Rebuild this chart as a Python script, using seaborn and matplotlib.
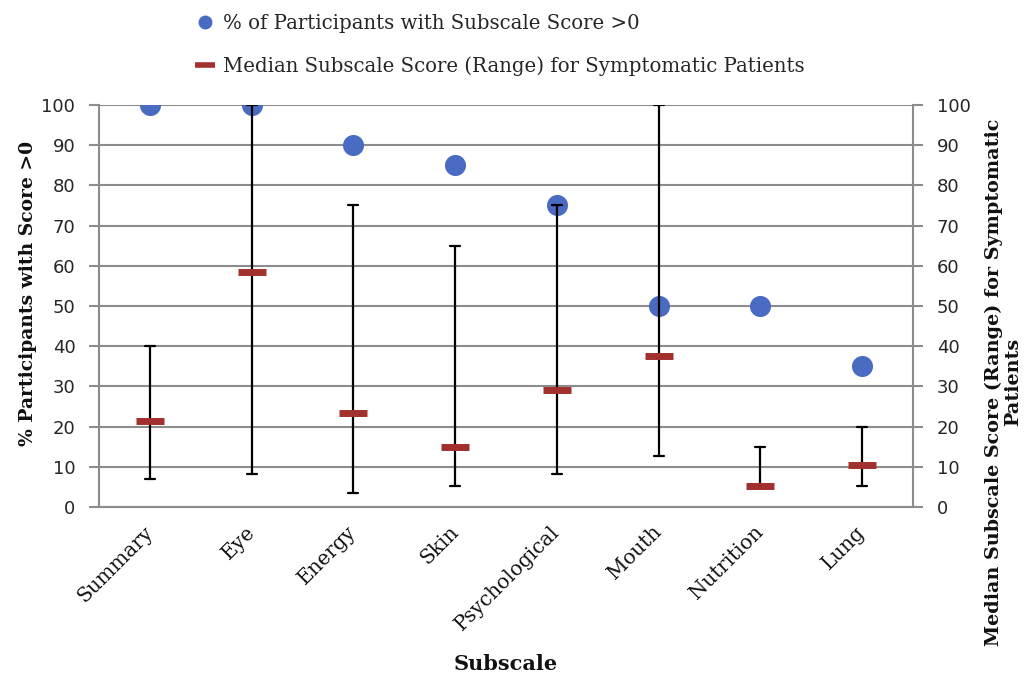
import numpy as np
import pandas as pd
import seaborn as sns
import matplotlib.pyplot as plt
from matplotlib.lines import Line2D
from matplotlib.ticker import FixedLocator

# Datos
subscales = ['Summary', 'Eye', 'Energy', 'Skin', 'Psychological', 'Mouth', 'Nutrition', 'Lung']
pct_score = [100, 100, 90, 85, 75, 50, 50, 35]
median_score = [21.3, 58.4, 23.4, 15.0, 29.2, 37.6, 5.3, 10.4]
range_low = [6.9, 8.1, 3.5, 5.2, 8.1, 12.7, 5.3, 5.2]
range_high = [40, 100, 75, 65, 75, 100, 15, 20]

blue = '#4A6BC2'
red = '#A2302E'
grid_gray = '#8C8C8C'
serif = 'DejaVu Serif'

sns.set_style('white')
plt.rcParams['font.family'] = ['DejaVu Sans']

# Tabla larga: min, mediana y max de cada subescala
rng = pd.DataFrame({
    'subscale': subscales * 3,
    'score': range_low + median_score + range_high,
})

fig = plt.figure(figsize=(10.3, 6.79), dpi=100)
ax = fig.add_axes([0.0961, 0.2533, 0.7903, 0.5921])

# Circulos: % de participantes
sns.scatterplot(x=subscales, y=pct_score, ax=ax, color=blue, s=230,
                edgecolor=blue, linewidth=0, zorder=3)

# Rango (min-max) como barras de error
sns.pointplot(data=rng, x='subscale', y='score', order=subscales, ax=ax,
              estimator='median', errorbar=('pi', 100), color='black',
              marker='', linestyle='none', capsize=0.1,
              err_kws={'linewidth': 1.6, 'zorder': 4})

# Mediana como raya roja
sns.scatterplot(x=subscales, y=median_score, ax=ax, color=red, marker='_',
                s=400, linewidth=5, zorder=5)

ax.set_xlim(-0.5, len(subscales) - 0.5)
ax.set_ylim(0, 100)
ax.set_yticks(range(0, 101, 10))
ax.yaxis.grid(True, color=grid_gray, linewidth=1.5)
ax.set_axisbelow(True)

for side in ['left', 'bottom', 'right']:
    ax.spines[side].set_color(grid_gray)
    ax.spines[side].set_linewidth(1.5)
ax.spines['top'].set_visible(False)

ax.tick_params(axis='y', direction='out', length=7, width=1.5, color=grid_gray,
               labelsize=13, pad=10)
ax.xaxis.set_minor_locator(FixedLocator(np.arange(-0.5, len(subscales), 1)))
ax.tick_params(axis='x', which='major', length=0, pad=16)
ax.tick_params(axis='x', which='minor', direction='out', length=7, width=1.5,
               color=grid_gray)
ax.set_xticks(range(len(subscales)))
ax.set_xticklabels(subscales, rotation=45, ha='right', va='center',
                   rotation_mode='anchor', fontsize=14.5, family=serif,
                   color='#111111')

ax.set_xlabel('Subscale', fontsize=15, fontweight='bold', family=serif,
              labelpad=14, color='#111111')
ax.set_ylabel('% Participants with Score >0', fontsize=13.5, fontweight='bold',
              family=serif, color='#111111')
ax.yaxis.set_label_coords(-0.076, 0.53)

# Eje derecho
ax2 = ax.twinx()
ax2.set_ylim(0, 100)
ax2.set_yticks(range(0, 101, 10))
ax2.tick_params(axis='y', direction='out', length=7, width=1.5, color=grid_gray,
                labelsize=13, pad=10)
for s in ax2.spines.values():
    s.set_visible(False)
ax2.set_ylabel('Median Subscale Score (Range) for Symptomatic\nPatients',
               fontsize=13.8, fontweight='bold', family=serif,
               linespacing=1.1, color='#111111', labelpad=10)
ax2.yaxis.label.set_y(0.31)

# Leyenda arriba
handles = [
    Line2D([], [], marker='o', color=blue, linestyle='none', markersize=9),
    Line2D([], [], marker='_', color=red, linestyle='none', markersize=14,
           markeredgewidth=4),
]
labels = ['% of Participants with Subscale Score >0',
          'Median Subscale Score (Range) for Symptomatic Patients']
fig.legend(handles, labels, loc='upper left', bbox_to_anchor=(0.172, 1.005),
           frameon=False, prop={'family': serif, 'size': 14.2},
           labelspacing=1.15, handlelength=1.0, handletextpad=0.4)

fig.savefig('out.png', dpi=100)
